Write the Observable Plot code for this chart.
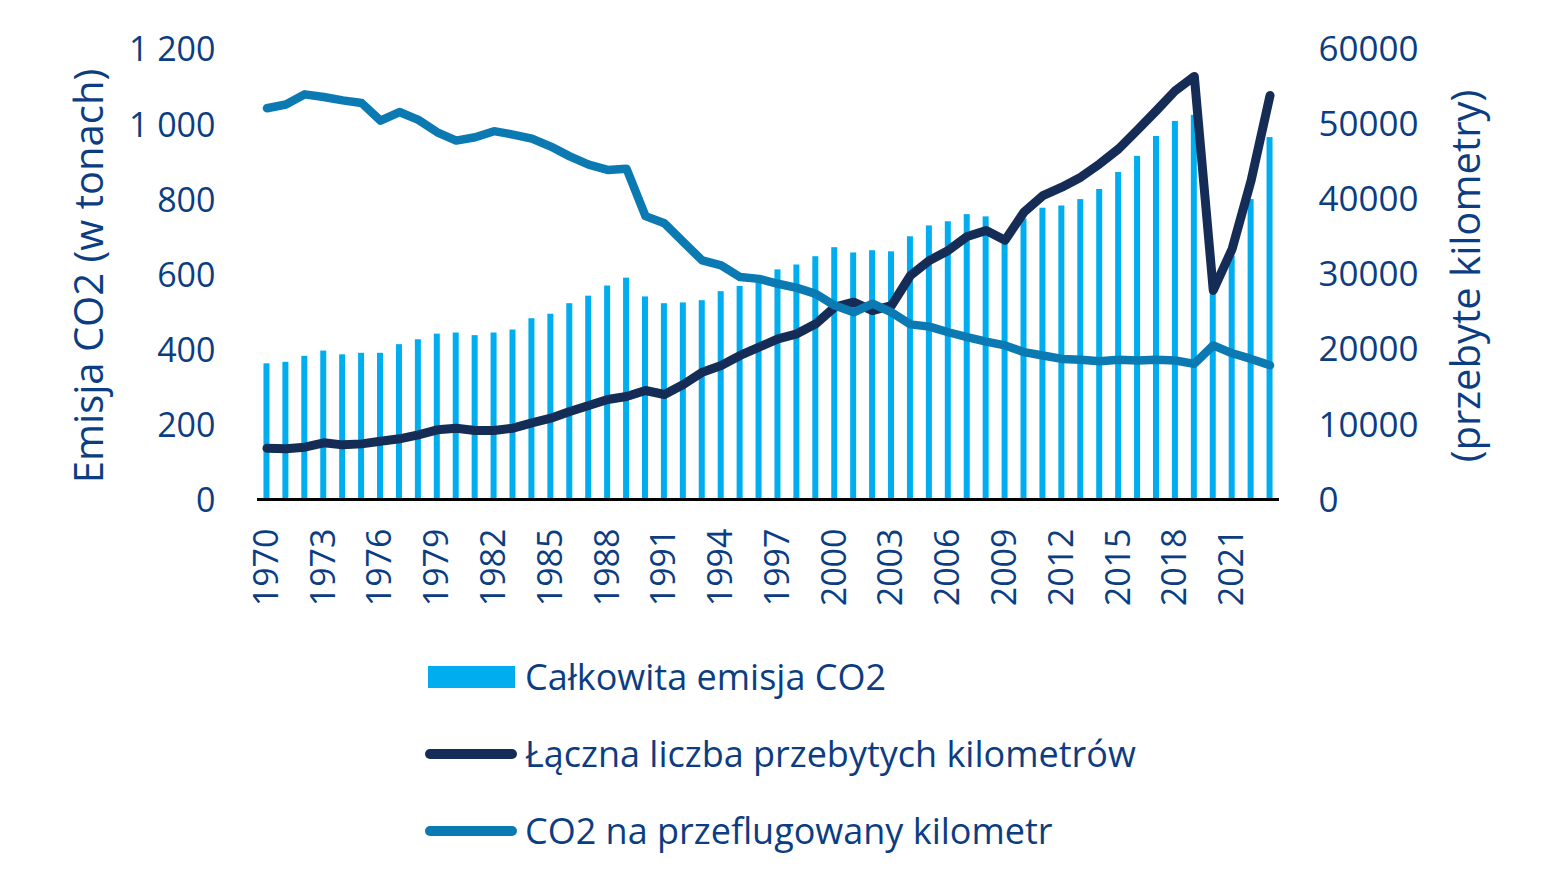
<!DOCTYPE html>
<html lang="pl">
<head>
<meta charset="utf-8">
<script src="https://cdn.jsdelivr.net/npm/d3@7"></script>
<script src="https://cdn.jsdelivr.net/npm/@observablehq/plot@0.6"></script>
<style>
  html, body { margin: 0; padding: 0; background: #ffffff; }
  body { width: 1548px; height: 893px; overflow: hidden; font-family: "Open Sans", sans-serif; }
  #chart svg { display: block; }
  .legend { position: relative; padding-top: 8px; }
  .legend .row { display: flex; align-items: center; height: 77px; padding-left: 425px; }
  .legend .sw { width: 92px; display: flex; align-items: center; justify-content: center; margin-right: 8px; }
  .legend .rect { width: 87px; height: 22px; }
  .legend .ln { width: 92px; height: 10px; border-radius: 5px; }
  .legend .txt { font-size: 36px; color: #0c3d82; line-height: 1; }
</style>
</head>
<body>
<div id="chart"></div>
<div class="legend" id="legend"></div>
<script>
// Years on the category axis
const years = [
  1970, 1971, 1972, 1973, 1974, 1975, 1976, 1977, 1978, 1979,
  1980, 1981, 1982, 1983, 1984, 1985, 1986, 1987, 1988, 1989,
  1990, 1991, 1992, 1993, 1994, 1995, 1996, 1997, 1998, 1999,
  2000, 2001, 2002, 2003, 2004, 2005, 2006, 2007, 2008, 2009,
  2010, 2011, 2012, 2013, 2014, 2015, 2016, 2017, 2018, 2019,
  2020, 2021, 2022, 2023
];

// Całkowita emisja CO2 (w tonach) – left axis
const totalEmission = [
  361, 365, 381, 395, 385, 389, 389, 412, 425, 440,
  443, 436, 443, 451, 481, 493, 521, 541, 568, 589,
  539, 521, 523, 529, 553, 567, 592, 611, 624, 646,
  670, 656, 662, 659, 699, 728, 739, 758, 752, 688,
  746, 775, 781, 798, 825, 870, 913, 966, 1006, 1022,
  566, 648, 798, 963
];

// Łączna liczba przebytych kilometrów – right axis
const totalKm = [
  6830, 6750, 6960, 7540, 7270, 7400, 7760, 8070, 8610, 9270,
  9490, 9180, 9180, 9490, 10200, 10820, 11710, 12500, 13300, 13700,
  14500, 13970, 15300, 16940, 17830, 19160, 20270, 21380, 22040, 23370,
  25590, 26250, 25140, 25810, 29800, 31800, 33130, 34990, 35790, 34500,
  38230, 40440, 41550, 42880, 44660, 46650, 49180, 51750, 54410, 56280,
  27810, 33350, 42440, 53750
];

// CO2 na przeflugowany kilometr – left axis
const co2PerKm = [
  1041, 1051, 1078, 1071, 1062, 1055, 1008, 1031, 1010, 977,
  955, 964, 980, 971, 960, 939, 913, 891, 877, 880,
  754, 735, 685, 636, 623, 592, 587, 574, 563, 547,
  516, 498, 521, 498, 466, 460, 445, 432, 420, 410,
  392, 383, 374, 372, 368, 372, 370, 372, 370, 361,
  410, 389, 374, 357
];

// Tick labels
const xTickYears = [1970, 1973, 1976, 1979, 1982, 1985, 1988, 1991, 1994, 1997, 2000, 2003, 2006, 2009, 2012, 2015, 2018, 2021];
const leftTicks = [0, 200, 400, 600, 800, 1000, 1200];
const rightTicks = [0, 10000, 20000, 30000, 40000, 50000, 60000];

const series = {
  bars: "Całkowita emisja CO2",
  km: "Łączna liczba przebytych kilometrów",
  perKm: "CO2 na przeflugowany kilometr"
};
const leftTitle = "Emisja CO2 (w tonach)";
const rightTitle = "(przebyte kilometry)";

const colors = { bars: "#00aeef", km: "#152c57", perKm: "#0b7ab3", text: "#0c3d82" };

// right axis shares the plot height: 60000 km maps onto 1200 t
const kmRatio = rightTicks[rightTicks.length - 1] / leftTicks[leftTicks.length - 1];

const rows = years.map((year, i) => ({
  year,
  total: totalEmission[i],
  km: totalKm[i],
  perKm: co2PerKm[i]
}));

const pl = d3.formatLocale({ decimal: ",", thousands: "\u00a0", grouping: [3], currency: ["", " zł"] });
const fmtLeft = pl.format(",d");

const tickFont = 34;
const titleFont = 40;

const plot = Plot.plot({
  width: 1548,
  height: 630,
  marginLeft: 257,
  marginRight: 269,
  marginTop: 48,
  marginBottom: 131,
  style: { fontFamily: "'Open Sans', sans-serif", fontSize: tickFont + "px", color: colors.text, background: "transparent" },
  x: { type: "band", domain: years, paddingInner: 0.683, paddingOuter: 0.3415, label: null },
  y: { domain: [0, 1200], label: null },
  marks: [
    Plot.barY(rows, { x: "year", y: "total", fill: colors.bars }),
    Plot.ruleY([0], { stroke: "#000000", strokeWidth: 3 }),
    Plot.line(rows, {
      x: "year", y: d => d.km / kmRatio,
      stroke: colors.km, strokeWidth: 9, strokeLinejoin: "round", strokeLinecap: "round"
    }),
    Plot.line(rows, {
      x: "year", y: "perKm",
      stroke: colors.perKm, strokeWidth: 8.5, strokeLinejoin: "round", strokeLinecap: "round"
    }),
    Plot.axisX({
      ticks: xTickYears, tickSize: 0, tickPadding: 29, tickRotate: -90,
      tickFormat: d => String(d), fontSize: tickFont, label: null, fill: colors.text
    }),
    Plot.axisY({
      anchor: "left", ticks: leftTicks, tickSize: 0, tickPadding: 42, dy: 2,
      tickFormat: fmtLeft, fontSize: tickFont, label: null, fill: colors.text
    }),
    Plot.axisY({
      anchor: "right", ticks: rightTicks.map(v => v / kmRatio), tickSize: 0, tickPadding: 39, dy: 1,
      tickFormat: v => String(Math.round(v * kmRatio)), fontSize: 35, label: null, fill: colors.text
    }),
    Plot.text([leftTitle], {
      text: d => d, frameAnchor: "left", dx: -167, dy: 2, rotate: -90,
      fontSize: titleFont, fill: colors.text, textAnchor: "middle", lineAnchor: "middle"
    }),
    Plot.text([rightTitle], {
      text: d => d, frameAnchor: "right", dx: 188, dy: 2, rotate: -90,
      fontSize: titleFont, fill: colors.text, textAnchor: "middle", lineAnchor: "middle"
    })
  ]
});

document.getElementById("chart").appendChild(plot);

// legend below the chart
const legend = document.getElementById("legend");
const items = [
  { label: series.bars, kind: "rect", color: colors.bars },
  { label: series.km, kind: "ln", color: colors.km },
  { label: series.perKm, kind: "ln", color: colors.perKm }
];
for (const it of items) {
  const row = document.createElement("div");
  row.className = "row";
  const sw = document.createElement("div");
  sw.className = "sw";
  const mark = document.createElement("div");
  mark.className = it.kind;
  mark.style.background = it.color;
  sw.appendChild(mark);
  const txt = document.createElement("span");
  txt.className = "txt";
  txt.textContent = it.label;
  row.appendChild(sw);
  row.appendChild(txt);
  legend.appendChild(row);
}
</script>
</body>
</html>
